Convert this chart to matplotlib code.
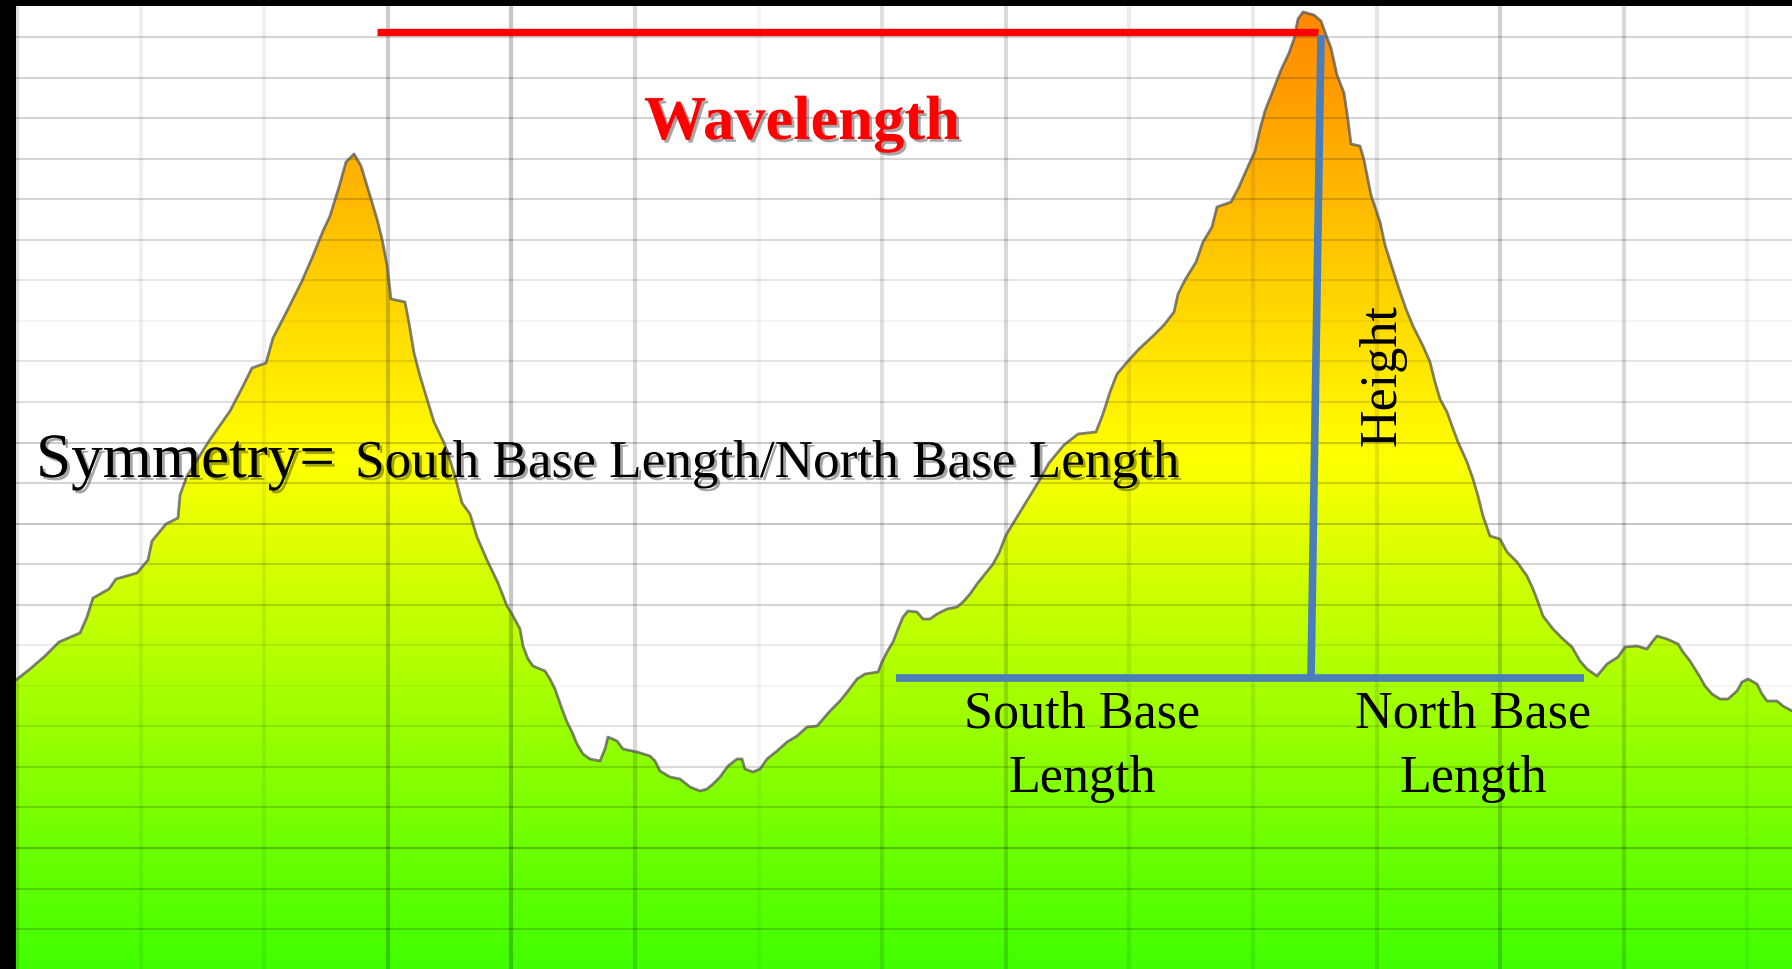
import numpy as np
import matplotlib.pyplot as plt
from matplotlib.colors import LinearSegmentedColormap
from matplotlib.patches import Polygon
import matplotlib.patheffects as pe

# elevation profile (distance units, elevation units)
dist = [16, 30, 45, 59, 80, 87, 93, 109, 116, 137, 148, 152, 166, 178, 180, 187, 209, 230, 241, 252,
        266, 273, 287, 302, 312, 323, 330, 339, 346, 354, 361, 368, 377, 382, 387, 391, 405, 409, 414, 420,
        427, 434, 445, 455, 462, 470, 477, 487, 498, 507, 512, 520, 523, 528, 533, 545, 550, 555, 562, 567,
        572, 577, 583, 590, 600, 605, 608, 617, 623, 637, 650, 655, 660, 670, 680, 690, 700, 707, 713, 720,
        728, 737, 742, 745, 753, 760, 767, 777, 787, 797, 807, 817, 823, 830, 840, 848, 857, 865, 878, 882,
        887, 893, 898, 903, 908, 917, 923, 930, 937, 947, 957, 963, 970, 977, 985, 993, 999, 1006, 1017, 1028,
        1039, 1049, 1064, 1078, 1096, 1103, 1110, 1117, 1128, 1139, 1153, 1164, 1174, 1178, 1185, 1196, 1203, 1212, 1217, 1231,
        1239, 1246, 1255, 1260, 1265, 1274, 1281, 1289, 1294, 1298, 1303, 1314, 1321, 1326, 1331, 1337, 1344, 1348, 1351, 1360,
        1364, 1371, 1380, 1385, 1392, 1399, 1406, 1413, 1423, 1430, 1435, 1440, 1447, 1452, 1458, 1467, 1473, 1478, 1483, 1490,
        1500, 1507, 1517, 1527, 1533, 1538, 1543, 1553, 1563, 1572, 1580, 1587, 1597, 1607, 1618, 1625, 1637, 1647, 1652, 1657,
        1667, 1678, 1683, 1690, 1695, 1700, 1705, 1712, 1720, 1728, 1737, 1742, 1748, 1757, 1762, 1767, 1777, 1783, 1792]
elev = [289, 300, 313, 327, 336, 352, 371, 380, 390, 396, 409, 428, 445, 451, 474, 493, 528, 558, 579, 601,
        606, 631, 658, 688, 711, 738, 753, 782, 807, 815, 803, 780, 750, 730, 704, 670, 667, 646, 616, 593,
        570, 547, 524, 493, 466, 455, 432, 409, 386, 363, 355, 340, 323, 310, 303, 298, 290, 280, 260, 247,
        237, 225, 215, 210, 208, 220, 232, 228, 220, 217, 213, 208, 198, 192, 190, 182, 178, 180, 185, 192,
        203, 210, 210, 200, 197, 200, 210, 218, 227, 233, 242, 243, 250, 258, 268, 278, 290, 295, 297, 307,
        317, 327, 340, 352, 358, 357, 350, 350, 355, 360, 362, 367, 375, 385, 395, 405, 416, 434, 452, 470,
        488, 506, 524, 535, 537, 555, 577, 595, 608, 620, 633, 644, 657, 675, 689, 707, 727, 742, 762, 767,
        782, 798, 818, 840, 858, 881, 899, 916, 930, 950, 957, 954, 948, 934, 921, 894, 876, 849, 825, 823,
        809, 774, 747, 724, 702, 680, 660, 643, 623, 607, 587, 570, 557, 543, 527, 507, 490, 473, 453, 433,
        430, 417, 407, 393, 380, 367, 353, 340, 330, 322, 308, 300, 293, 305, 312, 322, 323, 320, 327, 333,
        330, 325, 317, 308, 300, 292, 283, 275, 270, 270, 278, 287, 290, 285, 275, 268, 268, 263, 258]

# annotation geometry
wave_x = [377, 1318]
wave_y = 937
height_top = (1321, 934)
height_bot = (1311, 291)
base_x = [896, 1584]
base_y = 291

# grid line shades (black alpha) - the original has uneven grid
hgrid_alpha = [0.17, 0.17, 0.24, 0.16, 0.15, 0.10, 0.04, 0.08, 0.17, 0.17, 0.22, 0.17,
               0.20, 0.13, 0.10, 0.04, 0.10, 0.15, 0.17, 0.17, 0.17, 0.17, 0.17]
vgrid_alpha = [0.12, 0.06, 0.06, 0.20, 0.22, 0.15, 0.04, 0.12, 0.15, 0.08, 0.08, 0.10, 0.18, 0.15, 0.05]

xmin, xmax = 16, 1792
ymin, ymax = 0, 963

fig = plt.figure(figsize=(17.92, 9.70), dpi=100, facecolor='black')
ax = fig.add_axes([16/1792, 0, 1776/1792, 963/970])
ax.set_facecolor('white')

# gradient fill under the profile
cmap = LinearSegmentedColormap.from_list(
    'terrain_grad', [(0, '#40ff00'), (513/963, '#ffff00'), (1, '#ff8600')])
grad = np.linspace(0, 1, 512)[:, None]
im = ax.imshow(grad, extent=[xmin, xmax, ymin, ymax], origin='lower', aspect='auto',
               cmap=cmap, zorder=1, interpolation='bilinear')
verts = list(zip(dist, elev)) + [(dist[-1], ymin), (dist[0], ymin)]
poly = Polygon(verts, closed=True, facecolor='none', edgecolor='none')
ax.add_patch(poly)
im.set_clip_path(poly)

# grid
hpos = 39.9 + 40.55*np.arange(len(hgrid_alpha))
for y, a in zip(hpos, hgrid_alpha):
    ax.axhline(y, color='black', alpha=a, lw=1.5, zorder=2)
vpos = 17 + 123.6*np.arange(len(vgrid_alpha))
for x, a in zip(vpos, vgrid_alpha):
    ax.axvline(x, color='black', alpha=a, lw=3, zorder=2)

# profile outline
ax.plot(dist, elev, color='#555555', lw=2, alpha=0.75, zorder=3)

# wavelength / height / base lines
ax.plot(wave_x, [wave_y, wave_y], color='#ff0000', lw=5.3, solid_capstyle='butt', zorder=4)
ax.plot([height_top[0], height_bot[0]], [height_top[1], height_bot[1]], color='#4a7ebb', lw=5.5,
        solid_capstyle='butt', zorder=4)
ax.plot(base_x, [base_y, base_y], color='#4a7ebb', lw=5.5, solid_capstyle='butt', zorder=4)

shadow = [pe.withSimplePatchShadow(offset=(2, -2), shadow_rgbFace='black', alpha=0.35)]
serif = 'Liberation Serif'

ax.text(802, 830, 'Wavelength', color='#ff0000', fontsize=45, fontweight='bold', family=serif,
        ha='center', va='baseline', path_effects=shadow, zorder=5)
ax.text(36, 492, 'Symmetry=', color='black', fontsize=45.5, family=serif,
        ha='left', va='baseline', path_effects=shadow, zorder=5)
ax.text(355, 492, 'South Base Length/North Base Length', color='black', fontsize=38.3, family=serif,
        ha='left', va='baseline', path_effects=shadow, zorder=5)
ax.text(1382, 595, 'Height', color='black', fontsize=37.5, family=serif, rotation=90,
        ha='center', va='center', zorder=5)
for cx, word in [(1082, 'South Base'), (1473, 'North Base')]:
    ax.text(cx, 242, word, color='black', fontsize=37.5, family=serif, ha='center', va='baseline', zorder=5)
    ax.text(cx, 178, 'Length', color='black', fontsize=37.5, family=serif, ha='center', va='baseline', zorder=5)

ax.set_xlim(xmin, xmax)
ax.set_ylim(ymin, ymax)
ax.set_xticks([])
ax.set_yticks([])
for s in ax.spines.values():
    s.set_visible(False)

fig.savefig('out.png', dpi=100, facecolor=fig.get_facecolor())
